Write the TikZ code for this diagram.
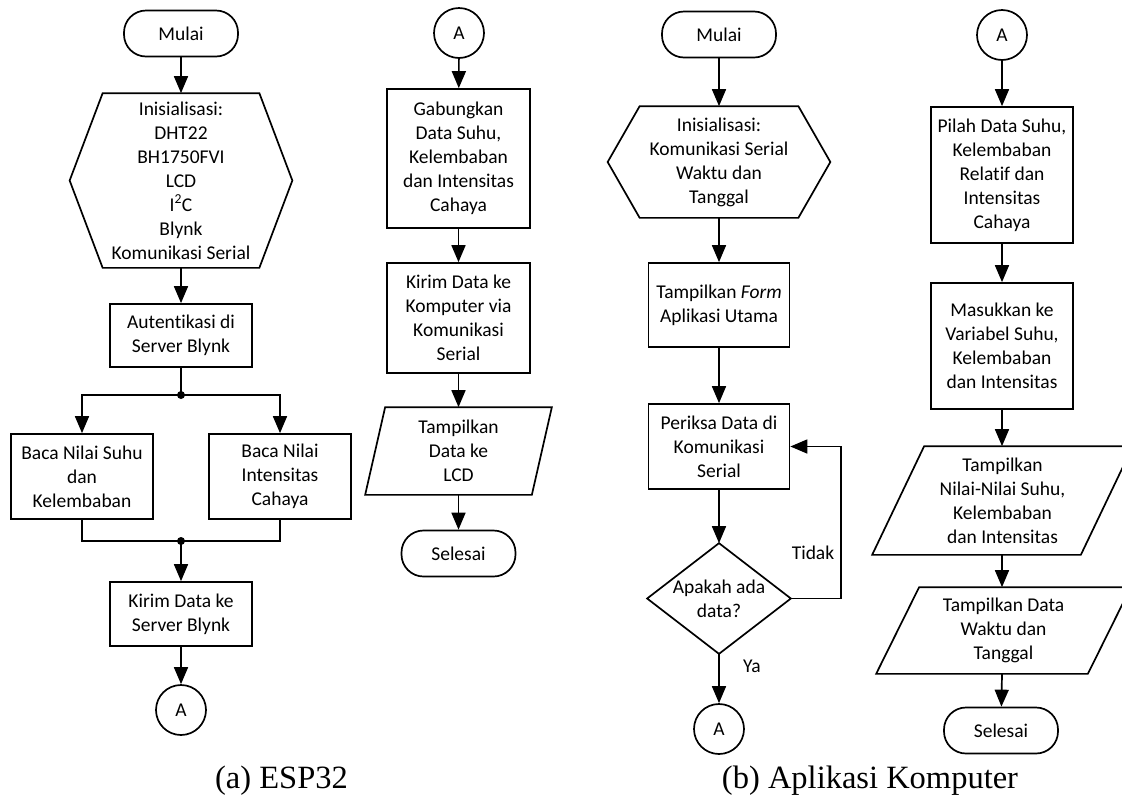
\documentclass[tikz,border=0pt]{standalone}
\usepackage{fontspec}
\setmainfont{Carlito}[Ligatures=NoCommon]
\newfontfamily\capfont{Liberation Serif}
\usetikzlibrary{arrows.meta}

\begin{document}
\begin{tikzpicture}[x=1pt, y=-1pt, line width=1.7pt,
  font=\fontsize{19.5}{24}\selectfont,
  proc/.style={draw, rectangle, align=center, inner sep=2pt, minimum width=142pt},
  term/.style={draw, rectangle, rounded corners=22pt, minimum width=114pt, minimum height=46pt},
  conn/.style={draw, circle, minimum size=50pt, inner sep=0pt},
  outline/.style={align=center, inner sep=0pt},
  flow/.style={-{Triangle[length=17pt,width=14pt]}},
  junction/.style={circle, fill, inner sep=0pt, minimum size=8pt},
  caption/.style={font=\capfont\fontsize{32.5}{36}\selectfont, anchor=base}]
  \useasboundingbox (0,0) rectangle (1122,796);

  % (a) ESP32, first part
  \node[term] (mulaiA) at (181,33.5) {Mulai};
  \node[outline, minimum width=155pt, minimum height=173pt] (initA) at (181,180.5)
    {Inisialisasi:\\DHT22\\BH1750FVI\\LCD\\I\textsuperscript{2}C\\Blynk\\Komunikasi Serial};
  \draw (initA.north west) -- (initA.north east) -- ([xshift=33pt]initA.east)
    -- (initA.south east) -- (initA.south west) -- ([xshift=-33pt]initA.west) -- cycle;
  \node[proc, minimum height=63pt] (authA) at (181,335.5) {Autentikasi di\\Server Blynk};
  \coordinate (splitA) at (181,395);
  \node[proc, minimum height=85pt] (suhuA) at (82,476.5) {Baca Nilai Suhu\\dan\\Kelembaban};
  \node[proc, minimum height=85pt] (cahayaA) at (280,476.5) {Baca Nilai\\Intensitas\\Cahaya};
  \coordinate (joinA) at (181,541);
  \node[proc, minimum height=64pt] (kirimA) at (181,614) {Kirim Data ke\\Server Blynk};
  \node[conn] (konA) at (181,710) {A};

  \draw[flow] (mulaiA) -- (initA);
  \draw[flow] (initA) -- (authA);
  \draw (authA) -- (splitA);
  \draw[flow] (splitA) -| (suhuA.north);
  \draw[flow] (splitA) -| (cahayaA.north);
  \node[junction] (dotSplit) at (splitA) {};
  \draw (suhuA.south) |- (joinA);
  \draw (cahayaA.south) |- (joinA);
  \node[junction] (dotJoin) at (joinA) {};
  \draw[flow] (joinA) -- (kirimA);
  \draw[flow] (kirimA) -- (konA);

  % (a) ESP32, second part
  \node[conn] (konB) at (459,33) {A};
  \node[proc, minimum width=143pt, minimum height=139pt] (gabung) at (458.5,158.5)
    {Gabungkan\\Data Suhu,\\Kelembaban\\dan Intensitas\\Cahaya};
  \node[proc, minimum width=143pt, minimum height=110pt] (kirimPC) at (458.5,318)
    {Kirim Data ke\\Komputer via\\Komunikasi\\Serial};
  \node[outline, minimum width=165pt, minimum height=86pt] (lcd) at (458.5,451) {Tampilkan\\Data ke\\LCD};
  \draw ([xshift=10pt]lcd.north west) -- ([xshift=10pt]lcd.north east)
    -- ([xshift=-10pt]lcd.south east) -- ([xshift=-10pt]lcd.south west) -- cycle;
  \node[term] (selesaiA) at (458.5,553.5) {Selesai};

  \draw[flow] (konB) -- (gabung);
  \draw[flow] (gabung) -- (kirimPC);
  \draw[flow] (kirimPC) -- (lcd);
  \draw[flow] (lcd) -- (selesaiA);

  % (b) Aplikasi Komputer, first part
  \node[term] (mulaiB) at (719,34.5) {Mulai};
  \node[outline, minimum width=157pt, minimum height=110pt] (initB) at (719,162)
    {Inisialisasi:\\Komunikasi Serial\\Waktu dan\\Tanggal};
  \draw (initB.north west) -- (initB.north east) -- ([xshift=32pt]initB.east)
    -- (initB.south east) -- (initB.south west) -- ([xshift=-32pt]initB.west) -- cycle;
  \node[proc, minimum width=141pt, minimum height=84pt] (form) at (719,305) {Tampilkan \textit{Form}\\Aplikasi Utama};
  \node[proc, minimum width=141pt, minimum height=85pt] (periksa) at (719,446.5) {Periksa Data di\\Komunikasi\\Serial};
  \node[outline, minimum width=142pt, minimum height=109pt] (cek) at (719,598.5) {Apakah ada\\data?};
  \draw (cek.north) -- (cek.east) -- (cek.south) -- (cek.west) -- cycle;
  \node[conn] (konC) at (719,729) {A};
  \node (tidak) at (813,553) {Tidak};
  \node (ya) at (752,666) {Ya};

  \draw[flow] (mulaiB) -- (initB);
  \draw[flow] (initB) -- (form);
  \draw[flow] (form) -- (periksa);
  \draw[flow] (periksa) -- (cek);
  \draw[flow] (cek.east) -- ++(50,0) |- (periksa.east);
  \draw[flow] (cek) -- (konC);

  % (b) Aplikasi Komputer, second part
  \node[conn] (konD) at (1002,35) {A};
  \node[proc, minimum height=136pt] (pilah) at (1002,175)
    {Pilah Data Suhu,\\Kelembaban\\Relatif dan\\Intensitas\\Cahaya};
  \node[proc, minimum height=126pt] (masuk) at (1002,346)
    {Masukkan ke\\Variabel Suhu,\\Kelembaban\\dan Intensitas};
  \node[outline, minimum width=207pt, minimum height=107pt] (nilai) at (1002.5,500.5)
    {Tampilkan\\Nilai-Nilai Suhu,\\Kelembaban\\dan Intensitas};
  \draw ([xshift=26pt]nilai.north west) -- ([xshift=26pt]nilai.north east)
    -- ([xshift=-26pt]nilai.south east) -- ([xshift=-26pt]nilai.south west) -- cycle;
  \node[outline, minimum width=210pt, minimum height=85pt] (waktu) at (1003.5,630.5)
    {Tampilkan Data\\Waktu dan\\Tanggal};
  \draw ([xshift=21.5pt]waktu.north west) -- ([xshift=21.5pt]waktu.north east)
    -- ([xshift=-21.5pt]waktu.south east) -- ([xshift=-21.5pt]waktu.south west) -- cycle;
  \node[term] (selesaiB) at (1001,730.5) {Selesai};

  \draw[flow] (konD) -- (pilah);
  \draw[flow] (pilah) -- (masuk);
  \draw[flow] (masuk) -- (nilai.north -| masuk.south);
  \draw[flow] (nilai.south -| masuk.south) -- (waktu.north -| masuk.south);
  \draw[flow] (waktu.south -| masuk.south) -- (selesaiB);

  % captions
  \node[caption] (capA) at (281.5,788) {(a) ESP32};
  \node[caption] (capB) at (870,788) {(b) Aplikasi Komputer};
\end{tikzpicture}
\end{document}
